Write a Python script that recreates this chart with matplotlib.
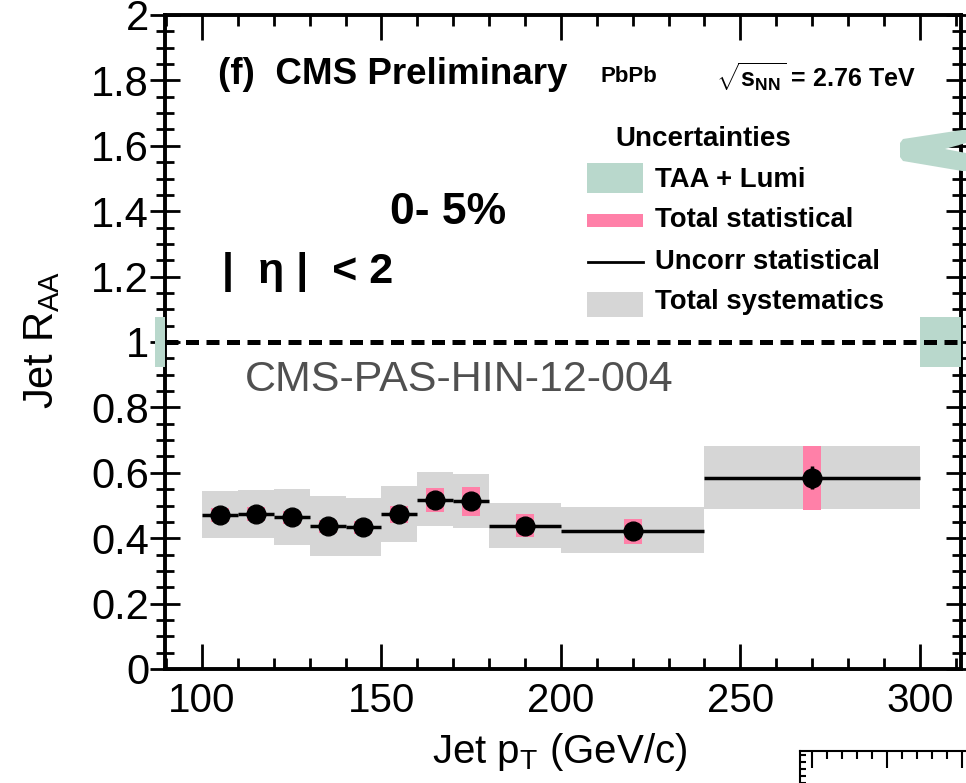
import numpy as np
import matplotlib
matplotlib.use("Agg")
import matplotlib.pyplot as plt
from matplotlib.patches import Rectangle, Polygon
from matplotlib.lines import Line2D
from matplotlib.ticker import MultipleLocator, FuncFormatter

plt.rcParams['font.family'] = ['Liberation Sans', 'DejaVu Sans']
plt.rcParams['mathtext.fontset'] = 'custom'
plt.rcParams['mathtext.rm'] = 'Liberation Sans'
plt.rcParams['mathtext.bf'] = 'Liberation Sans:bold'
plt.rcParams['mathtext.it'] = 'Liberation Sans:italic'

# jet pT bins (GeV/c)
pt_lo = np.array([100, 110, 120, 130, 140, 150, 160, 170, 180, 200, 240])
pt_hi = np.array([110, 120, 130, 140, 150, 160, 170, 180, 200, 240, 300])
# RAA central values, 0-5% centrality
raa = np.array([0.471, 0.474, 0.464, 0.436, 0.434, 0.473, 0.518, 0.513, 0.438, 0.421, 0.585])
# total systematic band (low / high edges)
sys_lo = np.array([0.400, 0.400, 0.378, 0.347, 0.347, 0.387, 0.437, 0.430, 0.369, 0.354, 0.488])
sys_hi = np.array([0.543, 0.546, 0.549, 0.528, 0.522, 0.559, 0.601, 0.595, 0.509, 0.494, 0.683])
# total statistical and uncorrelated statistical errors
stat_tot = np.array([0.020, 0.020, 0.020, 0.020, 0.020, 0.027, 0.037, 0.045, 0.035, 0.038, 0.098])
stat_unc = np.array([0.012, 0.012, 0.012, 0.012, 0.012, 0.015, 0.015, 0.015, 0.015, 0.015, 0.036])
# TAA + lumi normalisation uncertainty at RAA = 1
taa_unc = 0.075

pt = (pt_lo + pt_hi) / 2

C_SYS = '#d6d6d6'
C_STAT = '#ff80a8'
C_TAA = '#b9d8cc'

W, H = 966, 783
fig = plt.figure(figsize=(W / 100, H / 100), dpi=100)
ax = fig.add_axes([165 / W, 1 - 669 / H, (961 - 165) / W, (669 - 15) / H])

def fx(x):
    return x / W

def fy(y):
    return 1 - y / H

# bands
ax.bar(pt, sys_hi - sys_lo, width=pt_hi - pt_lo, bottom=sys_lo, color=C_SYS, lw=0, zorder=1)
ax.bar(pt, 2 * stat_tot, width=5, bottom=raa - stat_tot, color=C_STAT, lw=0, zorder=2)
ax.errorbar(pt, raa, xerr=[pt - pt_lo, pt_hi - pt], yerr=stat_unc, fmt='o', color='k',
            ms=13.5, elinewidth=2.5, capsize=0, zorder=4)

# unity line + TAA box
ax.add_patch(Rectangle((300, 1 - taa_unc), 20, 2 * taa_unc, color=C_TAA, lw=0, zorder=3))
ax.add_patch(Rectangle((87, 1 - taa_unc), 2.7, 2 * taa_unc, color=C_TAA, lw=0,
                       zorder=3, clip_on=False))
ax.axhline(1, color='k', lw=3.6, dashes=(2.6, 1.5), zorder=5)

ax.set_xlim(89.7, 311.5)
ax.set_ylim(0, 2.0)
ax.xaxis.set_major_locator(MultipleLocator(50))
ax.xaxis.set_minor_locator(MultipleLocator(10))
ax.yaxis.set_major_locator(MultipleLocator(0.2))
ax.yaxis.set_minor_locator(MultipleLocator(0.05))
ax.yaxis.set_major_formatter(FuncFormatter(lambda v, p: f"{v:g}"))

for s in ax.spines.values():
    s.set_linewidth(2.8)
ax.tick_params(axis='x', which='both', direction='in', top=True, labelsize=29, pad=9, width=2)
ax.tick_params(axis='x', which='major', length=18)
ax.tick_params(axis='x', which='minor', length=8)
ax.tick_params(axis='y', which='both', direction='inout', labelsize=30, pad=1, width=2)
ax.tick_params(axis='y', which='major', length=21)
ax.tick_params(axis='y', which='minor', length=13)
ax.tick_params(axis='y', which='both', right=True)

ax.set_xlabel(r'Jet p$_{\rm T}$ (GeV/c)', fontsize=29, va='center')
ax.xaxis.set_label_coords(0.496, -0.127)
ax.set_ylabel(r'Jet R$_{\rm AA}$', fontsize=30, va='center')
ax.yaxis.set_label_coords(-0.154, 0.503)

# texts
fig.text(fx(218), fy(74), '(f)  CMS Preliminary', fontsize=26.5, weight='bold', va='center')
fig.text(fx(600), fy(77), 'PbPb', fontsize=16, weight='bold', va='center')
fig.text(fx(716), fy(77), r'$\mathbf{\sqrt{s_{NN}}}$ = 2.76 TeV', fontsize=18, weight='bold', va='center')
fig.text(fx(390), fy(212), '0- 5%', fontsize=32, weight='bold', va='center')
fig.text(fx(222), fy(272), '|  η |  < 2', fontsize=31, weight='bold', va='center')
fig.text(fx(245), fy(380), 'CMS-PAS-HIN-12-004', fontsize=31, color='#505050', va='center')

# legend
fig.text(fx(703), fy(139), 'Uncertainties', fontsize=20, weight='bold', ha='center', va='center')
fig.patches.append(Rectangle((fx(587), fy(193)), 56 / W, 30 / H, color=C_TAA, lw=0,
                             transform=fig.transFigure, figure=fig))
fig.patches.append(Rectangle((fx(587), fy(227)), 56 / W, 13 / H, color=C_STAT, lw=0,
                             transform=fig.transFigure, figure=fig))
fig.lines.append(Line2D([fx(588), fx(643)], [fy(262), fy(262)], color='k', lw=2,
                        transform=fig.transFigure, figure=fig))
fig.patches.append(Rectangle((fx(587), fy(317)), 56 / W, 25 / H, color=C_SYS, lw=0,
                             transform=fig.transFigure, figure=fig))
for y, lab in zip([180, 220, 262, 302],
                  ['TAA + Lumi', 'Total statistical', 'Uncorr statistical', 'Total systematics']):
    fig.text(fx(655), fy(y), lab, fontsize=19.8, weight='bold', va='center')

# pieces of the neighbouring panels
chev = [(900, 143), (903, 139), (962, 130), (966, 130), (966, 143), (945, 149),
        (966, 153), (966, 171), (962, 171), (903, 161), (900, 157)]
fig.patches.append(Polygon([(fx(a), fy(b)) for a, b in chev], closed=True, color=C_TAA, lw=0,
                           transform=fig.transFigure, figure=fig))

ax2 = fig.add_axes([800 / W, 0, 166 / W, 32 / H])
ax2.set_xlim(-12, 154)
ax2.set_ylim(0, 32)
ax2.xaxis.set_major_locator(MultipleLocator(75))
ax2.xaxis.set_minor_locator(MultipleLocator(15))
ax2.yaxis.set_major_locator(MultipleLocator(7))
ax2.spines['right'].set_visible(False)
ax2.spines['bottom'].set_visible(False)
for s in ax2.spines.values():
    s.set_linewidth(1.5)
ax2.tick_params(axis='x', which='both', direction='in', top=True, bottom=False,
                labelbottom=False, width=1.5)
ax2.tick_params(axis='x', which='major', length=12)
ax2.tick_params(axis='x', which='minor', length=6)
ax2.tick_params(axis='y', direction='in', length=4, width=1.5, labelleft=False)

fig.savefig('out.png', dpi=100)
